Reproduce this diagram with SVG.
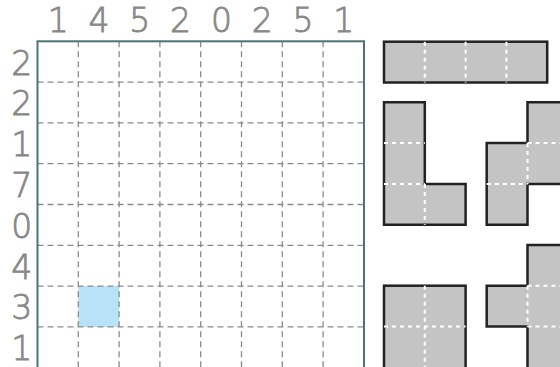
<svg xmlns="http://www.w3.org/2000/svg" width="560" height="367" viewBox="0 0 560 367">
<style>
.lbl{font-family:"DejaVu Sans",Verdana,sans-serif;font-weight:200;font-size:33px;fill:#888;stroke:#888;stroke-width:0.8;text-anchor:middle}
.grid{stroke:#8a8a8a;stroke-width:1.3;stroke-dasharray:6 4;fill:none}
.border{fill:none;stroke:#4e7272;stroke-width:2}
.piece{fill:#c4c4c4;stroke:#222;stroke-width:2.5;stroke-linejoin:miter}
.inner{stroke:#fff;stroke-width:2;stroke-dasharray:4 4;fill:none}
</style>
<rect width="560" height="367" fill="#fff"/>
<g id="col-labels" class="lbl">
<text x="58.2" y="32">1</text>
<text x="99" y="32">4</text>
<text x="139.8" y="32">5</text>
<text x="180.6" y="32">2</text>
<text x="221.4" y="32">0</text>
<text x="262.2" y="32">2</text>
<text x="303" y="32">5</text>
<text x="343.8" y="32">1</text>
</g>
<g id="row-labels" class="lbl">
<text x="21.7" y="74.5">2</text>
<text x="21.7" y="115.3">2</text>
<text x="21.7" y="156.1">1</text>
<text x="21.7" y="196.9">7</text>
<text x="21.7" y="237.7">0</text>
<text x="21.7" y="278.5">4</text>
<text x="21.7" y="319.3">3</text>
<text x="21.7" y="360">1</text>
</g>
<g id="board">
<rect x="78.3" y="286.1" width="40.8" height="40.8" fill="#b8e2f8"/>
<path class="grid" d="M78.3,41.3V368M119.1,41.3V368M159.9,41.3V368M200.7,41.3V368M241.5,41.3V368M282.3,41.3V368M323.1,41.3V368M37.5,82.1H364M37.5,122.9H364M37.5,163.7H364M37.5,204.5H364M37.5,245.3H364M37.5,286.1H364M37.5,326.9H364"/>
<rect class="border" x="37.5" y="41.3" width="326.5" height="328"/>
</g>
<g id="piece-bar">
<rect class="piece" x="384" y="41.7" width="163.2" height="40.8"/>
<path class="inner" d="M424.8,41.7V82.5M465.6,41.7V82.5M506.4,41.7V82.5"/>
</g>
<g id="piece-L">
<path class="piece" d="M384,102.3H424.8V183.9H465.6V224.7H384Z"/>
<path class="inner" d="M384,143.1H424.8M384,183.9H424.8M424.8,183.9V224.7"/>
</g>
<g id="piece-S">
<path class="piece" d="M527.5,102.3H568.3V183.9H527.5V224.7H486.7V143.1H527.5Z"/>
<path class="inner" d="M527.5,143.1H568.3M527.5,143.1V183.9M486.7,183.9H527.5"/>
</g>
<g id="piece-square">
<rect class="piece" x="384" y="285.7" width="81.6" height="90"/>
<path class="inner" d="M424.8,285.7V370M384,326.5H465.6"/>
</g>
<g id="piece-T">
<path class="piece" d="M527.5,245H568.3V375H527.5V326.6H486.7V285.8H527.5Z"/>
<path class="inner" d="M527.5,285.8H568.3M527.5,285.8V326.6M527.5,326.6H568.3"/>
</g>
</svg>
